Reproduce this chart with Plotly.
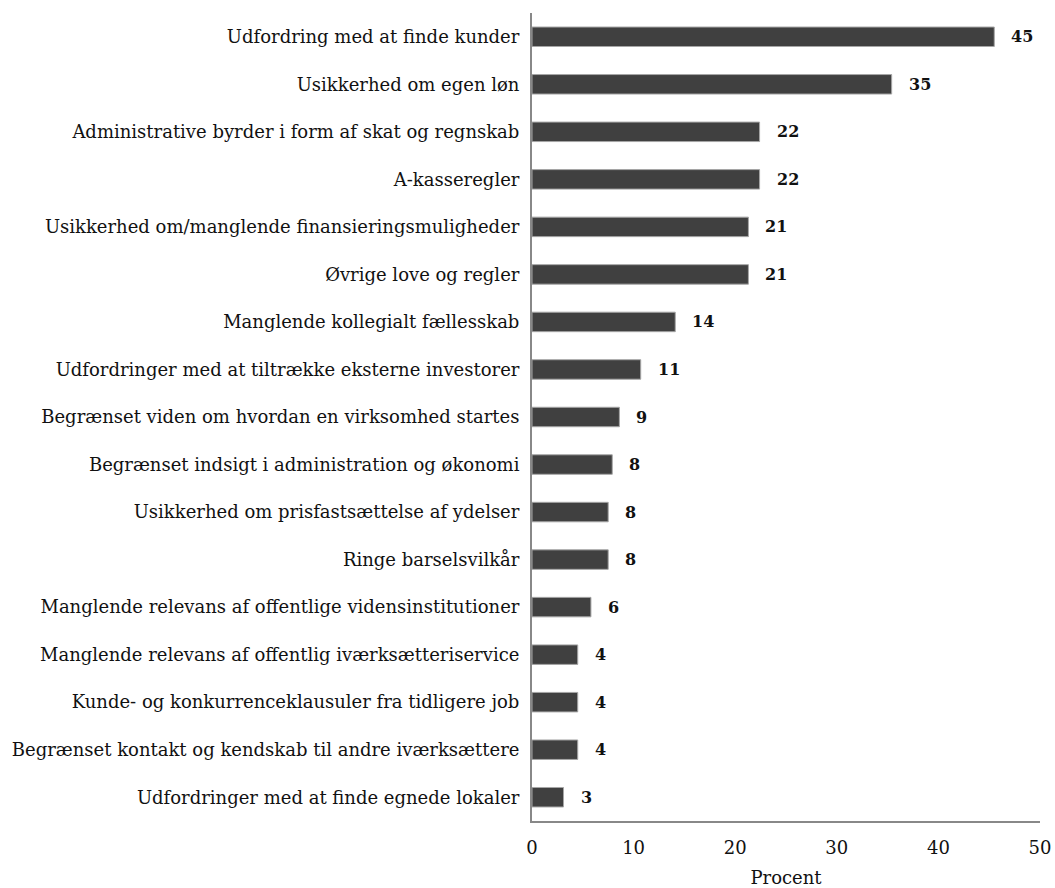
import plotly.graph_objects as go

categories = [
    "Udfordring med at finde kunder",
    "Usikkerhed om egen løn",
    "Administrative byrder i form af skat og regnskab",
    "A-kasseregler",
    "Usikkerhed om/manglende finansieringsmuligheder",
    "Øvrige love og regler",
    "Manglende kollegialt fællesskab",
    "Udfordringer med at tiltrække eksterne investorer",
    "Begrænset viden om hvordan en virksomhed startes",
    "Begrænset indsigt i administration og økonomi",
    "Usikkerhed om prisfastsættelse af ydelser",
    "Ringe barselsvilkår",
    "Manglende relevans af offentlige vidensinstitutioner",
    "Manglende relevans af offentlig iværksætteriservice",
    "Kunde- og konkurrenceklausuler fra tidligere job",
    "Begrænset kontakt og kendskab til andre iværksættere",
    "Udfordringer med at finde egnede lokaler",
]
values = [45.5, 35.4, 22.4, 22.4, 21.3, 21.3, 14.1, 10.7, 8.6, 7.9, 7.5, 7.5, 5.8, 4.5, 4.5, 4.5, 3.1]
value_labels = ["45", "35", "22", "22", "21", "21", "14", "11", "9", "8", "8", "8", "6", "4", "4", "4", "3"]
x_ticks = [0, 10, 20, 30, 40, 50]

FONT = "DejaVu Serif"

fig = go.Figure()
fig.add_trace(go.Bar(
    x=values,
    y=categories,
    orientation="h",
    width=0.41,
    marker=dict(color="#404040", line=dict(color="#a6a6a6", width=1)),
    hoverinfo="x+y",
    cliponaxis=False,
))

for cat, v, lab in zip(categories, values, value_labels):
    fig.add_annotation(
        x=v, y=cat, text=lab, showarrow=False,
        xanchor="left", yanchor="middle", xshift=15,
        font=dict(family=FONT, size=16, color="#111111", weight="bold"),
    )

fig.update_layout(
    width=1055, height=888,
    margin=dict(l=532, r=15, t=13, b=67),
    plot_bgcolor="white", paper_bgcolor="white",
    showlegend=False,
    font=dict(family=FONT, size=17, color="#111111"),
)
fig.update_yaxes(
    autorange="reversed", automargin=False,
    showline=True, linecolor="#888888", linewidth=2,
    showgrid=False, ticks="", ticklabelstandoff=7,
    tickfont=dict(family=FONT, size=18, color="#111111"),
)
fig.update_xaxes(
    range=[0, 50], tickvals=x_ticks, automargin=False,
    showline=True, linecolor="#888888", linewidth=2,
    showgrid=False, zeroline=False, ticks="",
    ticklabelstandoff=9,
    tickfont=dict(family=FONT, size=18, color="#111111"),
    title=dict(text="Procent", font=dict(family=FONT, size=18, color="#111111"), standoff=18),
)

# remove the default page margin so the figure sits at the window's corner
fig.write_html(
    "out.html",
    config={"displayModeBar": False},
    post_script="document.body.style.margin='0';",
)
